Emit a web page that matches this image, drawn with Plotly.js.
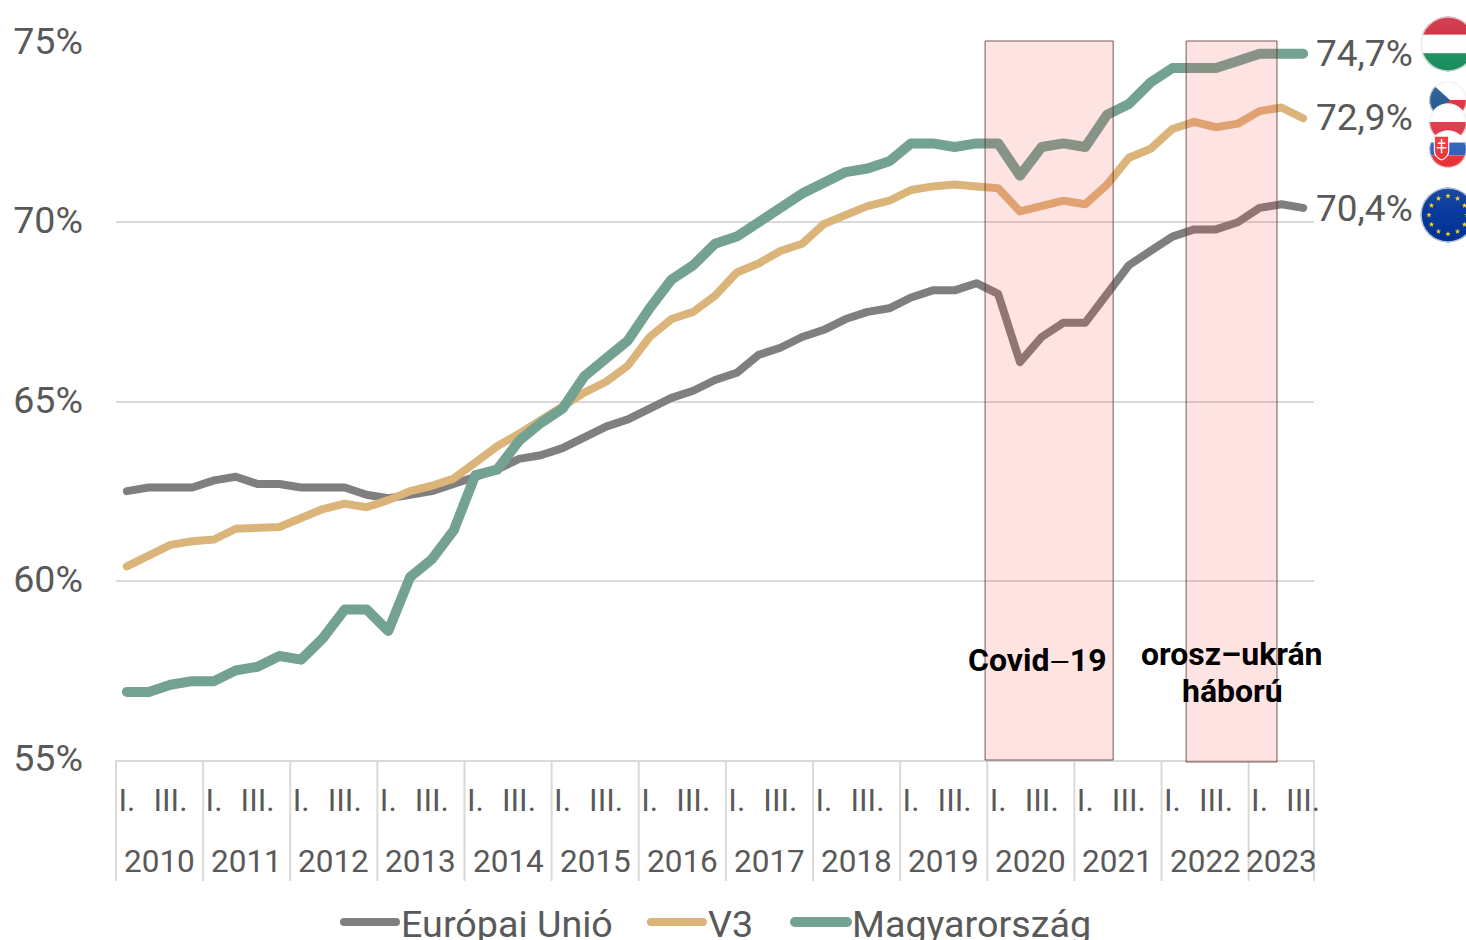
<!DOCTYPE html>
<html><head><meta charset="utf-8">
<script src="https://cdn.plot.ly/plotly-3.0.1.min.js"></script>
<style>
html,body{margin:0;padding:0;background:#fff;overflow:hidden}
#c{width:1466px;height:940px}
path.js-line,.legendlines path{stroke-linecap:round;stroke-linejoin:round}
</style></head><body><div id="c"></div>
<script>
const years=['2010','2011','2012','2013','2014','2015','2016','2017','2018','2019','2020','2021','2022','2023'];
const quartersPerYear=[4,4,4,4,4,4,4,4,4,4,4,4,4,3];
const quarterLabels=['I.','','III.',''];
const euValues=[62.5,62.6,62.6,62.6,62.8,62.9,62.7,62.7,62.6,62.6,62.6,62.4,62.3,62.4,62.5,62.7,62.9,63.1,63.4,63.5,63.7,64.0,64.3,64.5,64.8,65.1,65.3,65.6,65.8,66.3,66.5,66.8,67.0,67.3,67.5,67.6,67.9,68.1,68.1,68.3,68.0,66.1,66.8,67.2,67.2,68.0,68.8,69.2,69.6,69.8,69.8,70.0,70.4,70.5,70.4];
const v3Values=[60.4,60.7,61.0,61.1,61.15,61.45,61.5,61.5,61.75,62.0,62.15,62.05,62.25,62.5,62.65,62.85,63.3,63.75,64.1,64.5,64.85,65.25,65.55,66.0,66.8,67.3,67.5,67.95,68.6,68.85,69.2,69.4,69.95,70.2,70.45,70.6,70.9,71.0,71.05,71.0,70.95,70.3,70.45,70.6,70.5,71.05,71.8,72.05,72.6,72.8,72.65,72.75,73.1,73.2,72.9];
const huValues=[56.9,56.9,57.1,57.2,57.2,57.5,57.6,57.9,57.8,58.4,59.2,59.2,58.6,60.1,60.6,61.4,62.95,63.1,63.9,64.4,64.8,65.7,66.2,66.7,67.6,68.4,68.8,69.4,69.6,70.0,70.4,70.8,71.1,71.4,71.5,71.7,72.2,72.2,72.1,72.2,72.2,71.3,72.1,72.2,72.1,73.0,73.3,73.9,74.3,74.3,74.3,74.5,74.7,74.7,74.7];
const endLabels=['74,7%','72,9%','70,4%'];

const xIndex=euValues.map((_,i)=>i);
const tickPos=xIndex.filter(i=>quarterLabels[i%4]!=='');
const tickText=tickPos.map(i=>quarterLabels[i%4]);

const W=1466,H=940,mL=116,mR=152,mT=43,mB=180;
const px=x=>(x-mL)/(W-mL-mR), py=y=>1-(y-mT)/(H-mT-mB);
const font='Roboto, sans-serif', grey='#595959', rule='#d9d9d9';

function svgUri(body){return 'data:image/svg+xml;base64,'+btoa('<svg xmlns="http://www.w3.org/2000/svg" viewBox="0 0 100 100"><defs><clipPath id="k"><circle cx="50" cy="50" r="49"/></clipPath><linearGradient id="g" x1="0" y1="0" x2="0" y2="1"><stop offset="0" stop-color="#fff" stop-opacity=".12"/><stop offset=".45" stop-color="#fff" stop-opacity=".03"/><stop offset="1" stop-color="#000" stop-opacity=".04"/></linearGradient></defs><g clip-path="url(#k)">'+body+'<rect width="100" height="100" fill="url(#g)"/></g><circle cx="50" cy="50" r="48" fill="none" stroke="#e4e4e4" stroke-width="2.5" opacity=".8"/></svg>');}
function star(cx,cy,r){let p=[];for(let i=0;i<10;i++){const a=-Math.PI/2+i*Math.PI/5,q=i%2?r*.42:r;p.push((cx+q*Math.cos(a)).toFixed(2)+','+(cy+q*Math.sin(a)).toFixed(2));}return '<polygon fill="#ffd500" points="'+p.join(' ')+'"/>';}
let eu='<rect width="100" height="100" fill="#003399"/>';
for(let i=0;i<12;i++){const a=i*Math.PI/6;eu+=star(50+34*Math.cos(a),50+34*Math.sin(a),5);}
const flags=[
 {cx:1448,cy:44,r:28,svg:svgUri('<rect width="100" height="33.5" fill="#cd2a3e"/><rect y="33.5" width="100" height="33" fill="#fff"/><rect y="66.5" width="100" height="33.5" fill="#1b9160"/>')},
 {cx:1448,cy:100,r:19,svg:svgUri('<rect width="100" height="50" fill="#fff"/><rect y="50" width="100" height="50" fill="#e0323c"/><polygon points="0,0 55,50 0,100" fill="#265a91"/>')},
 {cx:1448,cy:122,r:19,svg:svgUri('<rect width="100" height="50" fill="#fff"/><rect y="50" width="100" height="50" fill="#e23a4c"/>')},
 {cx:1448,cy:149,r:19,svg:svgUri('<rect width="100" height="33" fill="#fff"/><rect y="33" width="100" height="34" fill="#2a62b8"/><rect y="67" width="100" height="33" fill="#ee3338"/><path d="M14 16h38v38q0 17-19 25q-19-8-19-25z" fill="#ee3338" stroke="#fff" stroke-width="3"/><path d="M31 24h4v9h8v4h-8v8h11v4h-11v12h-4v-12h-11v-4h11v-8h-8v-4h8z" fill="#fff"/>')},
 {cx:1448,cy:215,r:28,svg:svgUri(eu)}
];

const pad='\u00a0\u00a0\u00a0';
const traces=[
 {name:'Európai Unió'+pad,y:euValues,color:'#7f7f7f',w:8},
 {name:'V3'+pad+'\u200a',y:v3Values,color:'#dbb47a',w:8},
 {name:'Magyarország',y:huValues,color:'#74a292',w:10}
].map(t=>({type:'scatter',mode:'lines',name:t.name,x:xIndex,y:t.y,line:{color:t.color,width:t.w,shape:'linear'},hoverinfo:'skip'}));

const rectStyle={type:'rect',layer:'above',fillcolor:'rgba(250,60,60,0.14)',line:{color:'rgba(90,50,40,0.8)',width:1},xref:'x',yref:'paper'};
const shapes=[];
let cum=0;
const yearAnn=[];
years.forEach((yr,k)=>{
 shapes.push({type:'line',xref:'paper',yref:'paper',x0:cum/euValues.length,x1:cum/euValues.length,y0:0,y1:py(881),line:{color:rule,width:2},layer:'below'});
 yearAnn.push({xref:'x',yref:'paper',x:cum-0.5+quartersPerYear[k]/2,y:py(861),xanchor:'center',yanchor:'middle',showarrow:false,text:yr,font:{family:font,size:31.5,color:grey}});
 cum+=quartersPerYear[k];
});
shapes.push({type:'line',xref:'paper',yref:'paper',x0:1,x1:1,y0:0,y1:py(881),line:{color:rule,width:2},layer:'below'});
shapes.push(Object.assign({},rectStyle,{x0:39.4,x1:45.28,y0:0,y1:py(41)}));
shapes.push(Object.assign({},rectStyle,{x0:48.63,x1:52.8,y0:py(762),y1:py(41)}));

function note(text,xp,yp,anchor,size,color){
 return {xref:'paper',yref:'paper',x:px(xp),y:py(yp),xanchor:anchor,yanchor:'middle',showarrow:false,align:'center',
  text:text,font:{family:font,size:size,color:color}};
}
const annotations=yearAnn.concat([
 note(endLabels[0],1314,53,'left',37,grey),
 note(endLabels[1],1314,117,'left',37,grey),
 note(endLabels[2],1314,208,'left',37,grey),
 note('<b>Covid</b><span style="font-size:26px">—</span><b>19</b>',1037,660,'center',32,'#000'),
 note('<b>orosz–ukrán</b>',1232,654,'center',32,'#000'),
 note('<b>háború</b>',1232,691,'center',32,'#000')
]);

const layout={
 width:W,height:H,margin:{l:mL,r:mR,t:mT,b:mB,pad:0,autoexpand:false},paper_bgcolor:'#fff',plot_bgcolor:'#fff',
 font:{family:font,color:grey},showlegend:true,hovermode:false,
 legend:{orientation:'h',x:px(339),xanchor:'left',y:py(891),yanchor:'top',itemwidth:52,font:{family:font,size:37.7,color:grey},bgcolor:'rgba(0,0,0,0)'},
 xaxis:{type:'linear',range:[-0.5,54.5],tickmode:'array',tickvals:tickPos,ticktext:tickText,tickangle:0,showgrid:false,zeroline:false,showline:true,linecolor:rule,linewidth:2,
  ticks:'',ticklabelstandoff:11,tickfont:{family:font,size:31.5,color:grey},automargin:false},
 yaxis:{range:[55,75],tickvals:[55,60,65,70,75],ticktext:['55%','60%','65%','70%','75%'],showgrid:true,gridcolor:rule,gridwidth:2,
  zeroline:false,showline:false,ticks:'',ticklabelstandoff:32,ticklabelshift:-2,tickfont:{family:font,size:37.6,color:grey},automargin:false},
 shapes:shapes,annotations:annotations,
 images:flags.map(f=>({source:f.svg,xref:'paper',yref:'paper',x:px(f.cx-f.r),y:py(f.cy-f.r),sizex:2*f.r/(W-mL-mR),sizey:2*f.r/(H-mT-mB),xanchor:'left',yanchor:'top',sizing:'stretch',layer:'above'}))
};
Plotly.newPlot('c',traces,layout,{displayModeBar:false,staticPlot:true});
</script></body></html>
